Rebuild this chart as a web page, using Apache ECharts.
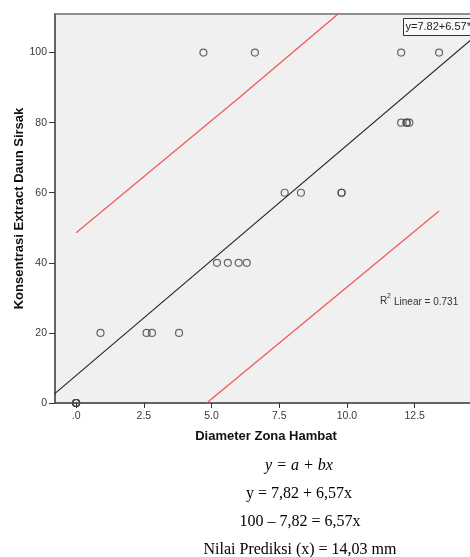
<!DOCTYPE html>
<html>
<head>
<meta charset="utf-8">
<script src="https://cdn.jsdelivr.net/npm/echarts@6/dist/echarts.min.js"></script>
<style>
  html, body { margin: 0; padding: 0; background: #fff; overflow: hidden; }
  #main { width: 490px; height: 557px; }
</style>
</head>
<body>
<div id="main"></div>
<script>
// data
var diameter    = [0, 0, 0, 0, 0.9, 2.6, 2.8, 3.8, 5.2, 5.6, 6.0, 6.3, 7.7, 8.3, 9.8, 9.8, 12.0, 12.2, 12.2, 12.3, 4.7, 6.6, 12.0, 13.4];
var konsentrasi = [0, 0, 0, 0, 20, 20, 20, 20, 40, 40, 40, 40, 60, 60, 60, 60, 80, 80, 80, 80, 100, 100, 100, 100];
// fit line y = 7.82 + 6.57x, end points
var fitLine   = [[-0.8, 2.6], [15.5, 109.7]];
// prediction interval lines
var upperLine = [[0, 48.6], [6.06, 87.4], [9.67, 111]];
var lowerLine = [[4.82, 0], [13.4, 54.8]];
var xTicks = [0, 2.5, 5, 7.5, 10, 12.5];
var yTicks = [0, 20, 40, 60, 80, 100];
var eqLines = ['y = a + bx', 'y = 7,82 + 6,57x', '100 – 7,82 = 6,57x', 'Nilai Prediksi (x) = 14,03 mm'];

var points = diameter.map(function (d, i) { return [d, konsentrasi[i]]; });

// the plot runs a little past the right edge of the window, so the canvas is wider
var myChart = echarts.init(document.getElementById('main'));
var font = 'Liberation Sans, Arial, sans-serif';
var serif = 'Liberation Serif, Times New Roman, serif';

var option = {
    animation: false,
    grid: {
        left: 55, top: 14, width: 422, bottom: 154,
        outerBoundsMode: 'none',
        show: true,
        backgroundColor: '#f0f0f0',
        borderColor: '#6e6e6e',
        borderWidth: 1.5
    },
    xAxis: {
        type: 'value',
        min: -0.78, max: 14.8,
        name: 'Diameter Zona Hambat',
        nameLocation: 'middle',
        nameGap: 27,
        nameMoveOverlap: false,
        nameTextStyle: { fontFamily: font, fontWeight: 'bold', fontSize: 13, color: '#111' },
        axisLine: { onZero: false, lineStyle: { color: '#555', width: 1.5 } },
        axisTick: { show: true, length: 5, customValues: xTicks, lineStyle: { color: '#333' } },
        axisLabel: {
            customValues: xTicks, fontFamily: font, fontSize: 10.5, color: '#3a3a3a', margin: 8,
            formatter: function (v) { return v === 0 ? '.0' : v.toFixed(1); }
        },
        splitLine: { show: false }
    },
    yAxis: {
        type: 'value',
        min: 0, max: 111,
        name: 'Konsentrasi Extract Daun Sirsak',
        nameLocation: 'middle',
        nameGap: 29,
        nameMoveOverlap: false,
        nameTextStyle: { fontFamily: font, fontWeight: 'bold', fontSize: 13, color: '#111' },
        axisLine: { onZero: false, lineStyle: { color: '#555', width: 1.5 } },
        axisTick: { show: true, length: 6, customValues: yTicks, lineStyle: { color: '#333' } },
        axisLabel: { customValues: yTicks, fontFamily: font, fontSize: 10.5, color: '#3a3a3a', margin: 8 },
        splitLine: { show: false }
    },
    series: [
        {
            type: 'line', data: upperLine, symbol: 'none',
            lineStyle: { color: '#f25a5a', width: 1.3 }
        },
        {
            type: 'line', data: lowerLine, symbol: 'none',
            lineStyle: { color: '#f25a5a', width: 1.3 }
        },
        {
            type: 'line', data: fitLine, symbol: 'none',
            lineStyle: { color: '#222', width: 1.1 }
        },
        {
            type: 'scatter', data: points, symbol: 'circle', symbolSize: 7,
            itemStyle: { color: 'rgba(0,0,0,0)', borderColor: '#444', borderWidth: 1.2 }
        }
    ],
    graphic: [
        {
            type: 'group', left: 403, top: 18,
            children: [
                { type: 'rect', shape: { x: 0, y: 0, width: 82, height: 17 },
                  style: { fill: '#fafafa', stroke: '#333', lineWidth: 1 } },
                { type: 'text', x: 2, y: 3,
                  style: { text: 'y=7.82+6.57*x', font: '11px ' + font, fill: '#222' } }
            ]
        },
        { type: 'text', left: 380, top: 296,
          style: { text: 'R', font: '10px ' + font, fill: '#333' } },
        { type: 'text', left: 387, top: 293,
          style: { text: '2', font: '7px ' + font, fill: '#333' } },
        { type: 'text', left: 394, top: 297,
          style: { text: 'Linear = 0.731', font: '10px ' + font, fill: '#333' } },
        { type: 'text', x: 299, y: 466,
          style: { text: eqLines[0], font: 'italic 16px ' + serif, fill: '#000', textAlign: 'center', textVerticalAlign: 'middle' } },
        { type: 'text', x: 299, y: 494,
          style: { text: eqLines[1], font: '16px ' + serif, fill: '#000', textAlign: 'center', textVerticalAlign: 'middle' } },
        { type: 'text', x: 300, y: 522,
          style: { text: eqLines[2], font: '16px ' + serif, fill: '#000', textAlign: 'center', textVerticalAlign: 'middle' } },
        { type: 'text', x: 300, y: 550,
          style: { text: eqLines[3], font: '16px ' + serif, fill: '#000', textAlign: 'center', textVerticalAlign: 'middle' } }
    ]
};

myChart.setOption(option);
</script>
</body>
</html>
